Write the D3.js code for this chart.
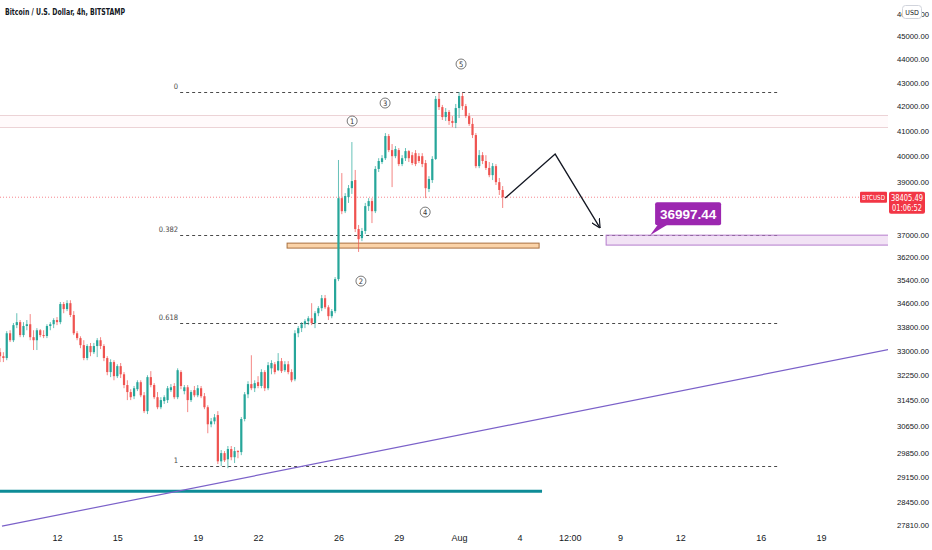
<!DOCTYPE html>
<html>
<head>
<meta charset="utf-8">
<script src="https://cdn.jsdelivr.net/npm/d3@7"></script>
<style>
html, body { margin: 0; padding: 0; background: #fff; }
svg { display: block; font-family: "Liberation Sans Narrow", "DejaVu Sans Condensed", "Liberation Sans", Arial, sans-serif; }
</style>
</head>
<body>
<script>
// BTCUSD 4h candles, first one at Jul 9 2021 04:00
const open = [
  32970, 32840, 32780, 33590, 33360, 33860, 33960, 33530, 33830, 33890,
  33460, 33360, 33690, 33530, 33500, 33830, 33890, 34030, 33960, 34570,
  34400, 34600, 34200, 33590, 33430, 33200, 32780, 33170, 32970, 33170,
  33360, 33170, 32780, 32330, 32650, 32200, 32520, 32260, 31920, 31700,
  31570, 31790, 32010, 31600, 31110, 32170, 31920, 31540, 31230, 31420,
  31450, 31760, 31890, 31540, 32330, 31730, 31850, 31450, 31760, 31600,
  31820, 31570, 31230, 30710, 30800, 30990, 29610, 29850, 29670, 29970,
  29730, 29910, 29880, 30870, 31630, 31950, 31820, 32010, 31890, 32330,
  31820, 32450, 32580, 32390, 32680, 32390, 32580, 32330, 32100, 33590,
  33760, 33890, 33990, 34090, 33930, 34260, 34430, 34770, 34460, 34160,
  34330, 35430, 38370, 37880, 38410, 38750, 39060, 37220, 36890, 37150,
  38070, 38260, 37880, 39490, 39760, 39910, 40790, 40230, 39990, 40230,
  39680, 39910, 40190, 40030, 40110, 39990, 39990, 39720, 38720, 39060,
  39880, 42310, 41970, 41560, 41770, 41400, 41320, 41930, 42430, 42010,
  41600, 41280, 40830, 39600, 40030, 39800, 39530, 39250, 39600, 38980,
  38680
];
const high = [
  33100, 32970, 33660, 33690, 33930, 34260, 34030, 33960, 34030, 34230,
  33690, 33760, 33730, 33690, 33890, 33960, 34090, 34130, 34640, 34640,
  34700, 34700, 34330, 33660, 33490, 33360, 33230, 33270, 33270, 33430,
  33460, 33230, 32840, 32740, 32710, 32580, 32620, 32330, 32070, 31790,
  31890, 32070, 32070, 31700, 32230, 32360, 31980, 31700, 31540, 31600,
  31890, 31950, 31980, 32450, 32390, 31920, 31920, 31760, 31890, 31920,
  31890, 31670, 31290, 30900, 31020, 31110, 29940, 29910, 30060, 30060,
  30030, 29940, 30930, 31700, 32040, 32870, 32070, 32200, 32420, 32390,
  32650, 32710, 32650, 32940, 32780, 32680, 32680, 32420, 33690, 33830,
  33960, 34060, 34160, 34600, 34330, 34500, 34880, 34880, 34530, 34400,
  35500, 39840, 39330, 38560, 38870, 40550, 39450, 37370, 37260, 38190,
  38370, 38370, 39600, 39910, 40030, 40910, 40870, 40470, 40390, 40310,
  40030, 40310, 40230, 40150, 40230, 40110, 40110, 39840, 39210, 39990,
  42430, 42560, 42060, 41930, 41850, 41600, 42100, 42600, 42560, 42100,
  41730, 41520, 40910, 40230, 40150, 40030, 39760, 39720, 39680, 39140,
  38830
];
const low = [
  32650, 32650, 32710, 33300, 33300, 33760, 33460, 33460, 33690, 33360,
  33040, 33040, 33460, 33430, 33430, 33690, 33760, 33860, 33890, 34260,
  34330, 34130, 33530, 33360, 33100, 32710, 32710, 32840, 32910, 32810,
  33070, 32680, 32230, 32170, 32070, 32140, 32140, 31820, 31450, 31450,
  31480, 31730, 31540, 31050, 31020, 31850, 31480, 31170, 31170, 31330,
  31360, 31700, 31480, 31480, 31790, 31630, 31080, 31390, 31540, 31540,
  31510, 31170, 30440, 30620, 30710, 29530, 29470, 29590, 29410, 29640,
  29560, 29700, 29790, 30800, 31510, 31760, 31700, 31820, 31820, 31730,
  31760, 32260, 32260, 32360, 32300, 32330, 32260, 32010, 32040, 33460,
  33630, 33760, 33860, 33860, 33760, 34160, 34330, 34400, 34030, 34090,
  34260, 35360, 37770, 37810, 38190, 38530, 37110, 36390, 36780, 37040,
  37890, 37440, 37810, 39370, 39680, 39840, 40150, 38790, 39910, 39600,
  39600, 39800, 39760, 39640, 39600, 39720, 39560, 38370, 38600, 38950,
  39840, 41850, 41440, 41400, 41240, 41150, 41110, 41520, 41850, 41520,
  41200, 40710, 39520, 39520, 39680, 39450, 39170, 39060, 38870, 38490,
  38000
];
const close = [
  32840, 32780, 33590, 33360, 33860, 33960, 33530, 33830, 33890, 33460,
  33360, 33690, 33530, 33500, 33830, 33890, 34030, 33960, 34570, 34400,
  34600, 34200, 33590, 33430, 33200, 32780, 33170, 32970, 33170, 33360,
  33170, 32780, 32330, 32650, 32200, 32520, 32260, 31920, 31700, 31540,
  31820, 32010, 31600, 31110, 32170, 31920, 31540, 31230, 31450, 31540,
  31820, 31850, 31540, 32390, 31890, 31850, 31450, 31700, 31600, 31820,
  31570, 31230, 30710, 30800, 30920, 29610, 29850, 29640, 29970, 29730,
  29910, 29880, 30870, 31630, 31950, 31820, 31980, 31890, 32330, 31820,
  32550, 32620, 32330, 32680, 32360, 32580, 32330, 32070, 33590, 33760,
  33890, 33990, 34090, 33930, 34260, 34430, 34770, 34460, 34160, 34330,
  35430, 38370, 37880, 38450, 38750, 39020, 37220, 36850, 37150, 38070,
  38260, 37880, 39490, 39800, 39910, 40790, 40230, 39990, 40270, 39680,
  39910, 40190, 39910, 39720, 39680, 39800, 39680, 38750, 39100, 39880,
  42310, 41970, 41560, 41770, 41400, 41320, 41930, 42430, 42010, 41600,
  41280, 40830, 39600, 40030, 39800, 39530, 39250, 39600, 38980, 38680,
  38405.49
];

const priceTicks = [46000, 45000, 44000, 43000, 42000, 41000, 40000, 39000, 37000, 36200,
  35400, 34600, 33800, 33000, 32250, 31450, 30650, 29850, 29150, 28450, 27810];
const timeTicks = ['2021-07-12', '2021-07-15', '2021-07-19', '2021-07-22', '2021-07-26', '2021-07-29',
  '2021-08-01', '2021-08-04', '2021-08-06 12:00', '2021-08-09', '2021-08-12', '2021-08-16', '2021-08-19'];
const timeLabels = ['12', '15', '19', '22', '26', '29', 'Aug', '4', '12:00', '9', '12', '16', '19'];

// drawings (time, price)
const fibLevels = [
  {label: '0', price: 42597},
  {label: '0.382', price: 36997.44},
  {label: '0.618', price: 33925},
  {label: '1', price: 29468}
];
const fibSpan = ['2021-07-18 03:00', '2021-08-16 21:00'];
const resistBand = [41643, 41154];
const supportBox = {from: '2021-07-23 10:40', to: '2021-08-04 23:30', top: 36708, bottom: 36529};
const targetBox = {from: '2021-08-08 07:30', to: '2021-08-30', top: 36997.44, bottom: 36637};
const targetLabel = {t: '2021-08-10 12:00', price: 36997.44, text: '36997.44'};
const pathPoints = [
  {t: '2021-08-03 07:00', price: 38374},
  {t: '2021-08-05 18:40', price: 40073},
  {t: '2021-08-08 00:20', price: 37256}
];
const trendLine = [{t: '2021-07-09 06:20', price: 27779}, {t: '2021-08-22 10:40', price: 33068}];
const baseLine = [{t: '2021-07-08', price: 28752}, {t: '2021-08-05 03:00', price: 28752}];
const waves = [
  {n: '1', t: '2021-07-26 16:20', price: 41398},
  {n: '2', t: '2021-07-27 02:50', price: 35360},
  {n: '3', t: '2021-07-28 07:40', price: 42138},
  {n: '4', t: '2021-07-30 07:30', price: 37847},
  {n: '5', t: '2021-08-01 02:20', price: 43789}
];
const lastPrice = 38405.49;
const countdown = '01:06:52';

const W = 932, H = 550;
const plotW = 888, plotH = 530;
const up = '#26a69a', down = '#ef5350';
const parse = s => d3.timeParse(s.length > 10 ? '%Y-%m-%d %H:%M' : '%Y-%m-%d')(s);

const svg = d3.select('body').append('svg')
  .attr('width', W)
  .attr('height', H)
  .attr('viewBox', [0, 0, W, H]);

const x = d3.scaleTime()
  .domain([new Date(2021, 6, 12), new Date(2021, 7, 19)])
  .range([57, 821]);
const y = d3.scaleLog()
  .domain([46000, 27810])
  .range([14, 525]);

const defs = svg.append('defs');
defs.append('clipPath').attr('id', 'plot')
  .append('rect').attr('width', plotW).attr('height', plotH);
defs.append('marker')
  .attr('id', 'head')
  .attr('viewBox', '0 0 10 10')
  .attr('refX', 10).attr('refY', 5)
  .attr('markerWidth', 9).attr('markerHeight', 9)
  .attr('markerUnits', 'userSpaceOnUse')
  .attr('orient', 'auto')
  .append('path')
    .attr('d', 'M0,0 L10,5 L0,10')
    .attr('fill', 'none')
    .attr('stroke', '#131722')
    .attr('stroke-width', 1.3);

const g = svg.append('g').attr('clip-path', 'url(#plot)');

// resistance band
g.append('rect')
  .attr('x', 0).attr('width', plotW)
  .attr('y', y(resistBand[0]))
  .attr('height', y(resistBand[1]) - y(resistBand[0]))
  .attr('fill', 'rgba(242,54,69,0.025)');
g.selectAll('.band')
  .data(resistBand)
  .join('line')
    .attr('x1', 0).attr('x2', plotW)
    .attr('y1', d => Math.round(y(d)) + 0.5).attr('y2', d => Math.round(y(d)) + 0.5)
    .attr('stroke', '#ecd3d6')
    .attr('stroke-width', 1);

// fib retracement
const fx0 = x(parse(fibSpan[0])), fx1 = x(parse(fibSpan[1]));
g.selectAll('.fib')
  .data(fibLevels)
  .join('line')
    .attr('x1', fx0).attr('x2', fx1)
    .attr('y1', d => Math.round(y(d.price)) + 0.5)
    .attr('y2', d => Math.round(y(d.price)) + 0.5)
    .attr('stroke', '#4a4a4a')
    .attr('stroke-dasharray', '3,3');
g.selectAll('.fibLabel')
  .data(fibLevels)
  .join('text')
    .attr('x', fx0 - 2)
    .attr('y', d => y(d.price) - 3)
    .attr('text-anchor', 'end')
    .style('font-size', '7.5px')
    .attr('fill', '#4a4a4a')
    .text(d => d.label);

// target zone
g.append('rect')
  .attr('x', x(parse(targetBox.from)))
  .attr('y', y(targetBox.top))
  .attr('width', x(parse(targetBox.to)) - x(parse(targetBox.from)))
  .attr('height', y(targetBox.bottom) - y(targetBox.top))
  .attr('fill', 'rgba(156,39,176,0.13)')
  .attr('stroke', '#b57ccc')
  .attr('stroke-width', 1);

// support box
g.append('rect')
  .attr('x', x(parse(supportBox.from)))
  .attr('y', y(supportBox.top))
  .attr('width', x(parse(supportBox.to)) - x(parse(supportBox.from)))
  .attr('height', y(supportBox.bottom) - y(supportBox.top))
  .attr('fill', '#fbd3a8')
  .attr('stroke', '#a8703f')
  .attr('stroke-width', 1);

const line = d3.line().x(d => x(parse(d.t))).y(d => y(d.price));

g.append('path')
  .attr('d', line(baseLine))
  .attr('fill', 'none')
  .attr('stroke', '#0e8c97')
  .attr('stroke-width', 3);

g.append('path')
  .attr('d', line(trendLine))
  .attr('fill', 'none')
  .attr('stroke', '#7b61c9')
  .attr('stroke-width', 1.2);

// last price line
g.append('line')
  .attr('x1', 0).attr('x2', plotW)
  .attr('y1', y(lastPrice)).attr('y2', y(lastPrice))
  .attr('stroke', '#f23645')
  .attr('stroke-opacity', 0.6)
  .attr('stroke-dasharray', '1,2');

// candles
const start = new Date(2021, 6, 9, 4);
const candles = close.map((c, i) => ({
  t: d3.timeHour.offset(start, 4 * i),
  o: open[i], h: high[i], l: low[i], c
}));
const bw = 2.2;
const cg = g.selectAll('.candle')
  .data(candles)
  .join('g')
    .attr('transform', d => `translate(${x(d.t)},0)`);
cg.append('line')
  .attr('y1', d => y(d.h))
  .attr('y2', d => y(d.l))
  .attr('stroke', d => d.c >= d.o ? up : down)
  .attr('stroke-opacity', 0.7)
  .attr('stroke-width', 1);
cg.append('rect')
  .attr('x', -bw / 2)
  .attr('width', bw)
  .attr('y', d => y(Math.max(d.o, d.c)))
  .attr('height', d => Math.max(1, Math.abs(y(d.o) - y(d.c))))
  .attr('fill', d => d.c >= d.o ? up : down);

// projected path
g.append('path')
  .attr('d', line(pathPoints))
  .attr('fill', 'none')
  .attr('stroke', '#131722')
  .attr('stroke-width', 1.3)
  .attr('marker-end', 'url(#head)');

// target label
const lx = x(parse(targetLabel.t)), ly = y(targetLabel.price);
g.append('path')
  .attr('d', `M${lx},${ly} L${lx + 8},${ly - 11} L${lx + 18},${ly - 11} Z`)
  .attr('fill', '#9c27b0');
g.append('rect')
  .attr('x', lx + 5).attr('y', ly - 33)
  .attr('width', 66).attr('height', 23)
  .attr('rx', 2)
  .attr('fill', '#9c27b0');
g.append('text')
  .attr('x', lx + 38).attr('y', ly - 16.5)
  .attr('text-anchor', 'middle')
  .style('font-family', '"Liberation Sans", Arial, sans-serif')
  .style('font-size', '13.5px')
  .style('font-weight', 'bold')
  .attr('fill', '#fff')
  .text(targetLabel.text);

// wave counts
const wg = g.selectAll('.wave')
  .data(waves)
  .join('g')
    .attr('transform', d => `translate(${x(parse(d.t))},${y(d.price)})`);
wg.append('circle')
  .attr('r', 5)
  .attr('fill', '#fff')
  .attr('stroke', '#555')
  .attr('stroke-width', 0.8);
wg.append('text')
  .attr('text-anchor', 'middle')
  .attr('dy', '0.35em')
  .style('font-size', '7.5px')
  .attr('fill', '#333')
  .text(d => d.n);

// axes
const yAxis = svg.append('g')
  .attr('transform', `translate(897,0)`)
  .call(d3.axisRight(y).tickValues(priceTicks).tickFormat(d3.format('.2f')).tickSize(0).tickPadding(0));
yAxis.select('.domain').remove();
yAxis.selectAll('text')
  .style('font-size', '8px')
  .style('font-family', null)
  .attr('textLength', 32)
  .attr('lengthAdjust', 'spacingAndGlyphs')
  .attr('fill', '#131722');

const xAxis = svg.append('g')
  .attr('transform', `translate(0,535)`)
  .call(d3.axisBottom(x).tickValues(timeTicks.map(parse))
    .tickFormat((d, i) => timeLabels[i]).tickSize(0).tickPadding(0));
xAxis.select('.domain').remove();
xAxis.selectAll('text')
  .style('font-size', '9px')
  .style('font-family', null)
  .attr('fill', '#131722');

// USD badge
svg.append('rect')
  .attr('x', 902.5).attr('y', 5.5)
  .attr('width', 19).attr('height', 13)
  .attr('rx', 3)
  .attr('fill', '#fff')
  .attr('stroke', '#d1d4dc');
svg.append('text')
  .attr('x', 912).attr('y', 14.5)
  .attr('text-anchor', 'middle')
  .style('font-size', '7px')
  .attr('fill', '#131722')
  .text('USD');

// last price tags
const py = y(lastPrice);
svg.append('rect')
  .attr('x', 860).attr('y', py - 5.5)
  .attr('width', 27).attr('height', 11)
  .attr('rx', 1)
  .attr('fill', '#f23645');
svg.append('text')
  .attr('x', 862).attr('y', py + 3)
  .style('font-size', '7px')
  .attr('textLength', 23)
  .attr('lengthAdjust', 'spacingAndGlyphs')
  .attr('fill', '#fff')
  .text('BTCUSD');
svg.append('rect')
  .attr('x', 889).attr('y', py - 5.5)
  .attr('width', 36).attr('height', 22)
  .attr('rx', 2)
  .attr('fill', '#f23645');
svg.append('text')
  .attr('x', 891).attr('y', py + 3.5)
  .style('font-size', '8px')
  .attr('textLength', 32)
  .attr('lengthAdjust', 'spacingAndGlyphs')
  .attr('fill', '#fff')
  .text(d3.format('.2f')(lastPrice));
svg.append('text')
  .attr('x', 892).attr('y', py + 13.5)
  .style('font-size', '8px')
  .attr('textLength', 30)
  .attr('lengthAdjust', 'spacingAndGlyphs')
  .attr('fill', '#fff')
  .text(countdown);

// title
svg.append('text')
  .attr('x', 5).attr('y', 15)
  .style('font-size', '9px')
  .style('font-weight', 'bold')
  .attr('textLength', 120)
  .attr('lengthAdjust', 'spacingAndGlyphs')
  .attr('fill', '#131722')
  .text('Bitcoin / U.S. Dollar, 4h, BITSTAMP');
</script>
</body>
</html>
